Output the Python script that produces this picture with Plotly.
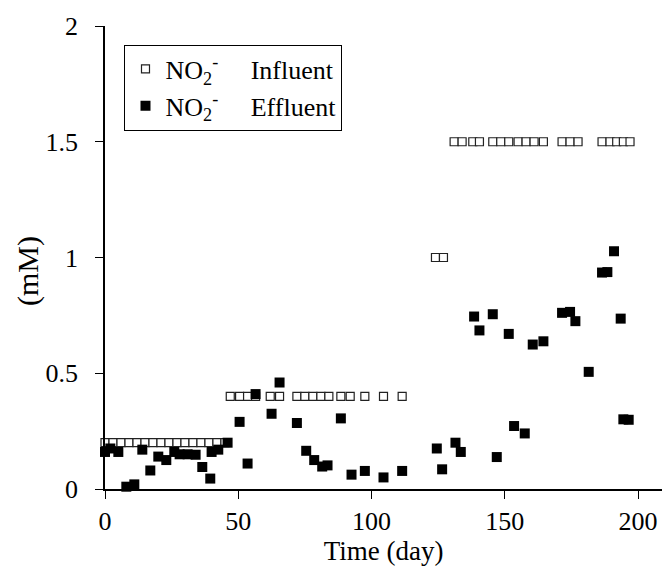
import plotly.graph_objects as go

# Influent NO2- (open squares)
influent_days = [0, 3, 6, 9, 12, 15, 18, 21, 24, 27, 30, 33, 36, 39, 42, 45,
                 47, 50.5, 53.5, 56.5, 62, 65.5, 72, 75, 78, 81, 84, 88.5, 92, 97.5, 104.5, 111.5,
                 124, 127,
                 131, 134, 138, 140.5, 145.5, 148.5, 151.5, 155, 158, 161, 164.5,
                 171.5, 174.5, 177.5, 186.5, 189.5, 192, 194.5, 197]
influent_mM = [0.2] * 16 + [0.4] * 16 + [1.0] * 2 + [1.5] * 19

# Effluent NO2- (filled squares)
effluent_days = [0, 2, 5, 8, 11, 14, 17, 20, 23, 26, 28, 31, 34, 36.5, 39.5, 40, 42.5,
                 46, 50.5, 53.5, 56.5, 62.5, 65.5, 72, 75.5, 78.5, 81.5, 83.5, 88.5,
                 92.5, 97.5, 104.5, 111.5, 124.5, 126.5, 131.5, 133.5, 138.5, 140.5,
                 145.5, 147, 151.5, 153.5, 157.5, 160.5, 164.5, 171.5, 174.5, 176.5,
                 181.5, 186.5, 188.5, 191, 193.5, 194.5, 196.5]
effluent_mM = [0.16, 0.175, 0.16, 0.01, 0.02, 0.17, 0.08, 0.14, 0.125, 0.16, 0.15, 0.15,
               0.148, 0.095, 0.045, 0.16, 0.17,
               0.2, 0.29, 0.11, 0.41, 0.325, 0.46, 0.285, 0.165, 0.125, 0.097, 0.102, 0.305,
               0.062, 0.078, 0.05, 0.078, 0.175, 0.085, 0.2, 0.16, 0.745, 0.685,
               0.755, 0.138, 0.67, 0.272, 0.24, 0.624, 0.638, 0.761, 0.765, 0.725,
               0.506, 0.935, 0.937, 1.027, 0.736, 0.301, 0.299]

x_ticks = [0, 50, 100, 150, 200]
y_ticks = [0, 0.5, 1, 1.5, 2]
y_tick_text = ["0", "0.5", "1", "1.5", "2"]

FONT = "Liberation Serif, Times New Roman, serif"
GAP = "\u00a0" * 5

fig = go.Figure()
fig.add_trace(go.Scatter(
    x=influent_days, y=influent_mM, mode="markers",
    name="NO<sub>2</sub><sup>-</sup>" + GAP + "Influent",
    marker=dict(symbol="square", size=8, color="white",
                line=dict(color="#222222", width=1.2)),
    cliponaxis=False,
))
fig.add_trace(go.Scatter(
    x=effluent_days, y=effluent_mM, mode="markers",
    name="NO<sub>2</sub><sup>-</sup>" + GAP + "Effluent",
    marker=dict(symbol="square", size=10, color="black",
                line=dict(color="black", width=0)),
    cliponaxis=False,
))

fig.update_layout(
    width=663, height=576,
    margin=dict(l=105, r=1, t=26, b=87),
    paper_bgcolor="white", plot_bgcolor="white",
    font=dict(family=FONT, size=26, color="black"),
    showlegend=True,
    legend=dict(
        x=0.035, y=0.96, xanchor="left", yanchor="top",
        bordercolor="black", borderwidth=1, bgcolor="white",
        font=dict(family=FONT, size=26, color="black"),
    ),
    xaxis=dict(
        range=[0, 209], tickvals=x_ticks, ticks="outside", ticklen=8,
        tickcolor="black", tickwidth=1, showline=True, linecolor="black",
        linewidth=1.5, showgrid=False, zeroline=False,
        ticklabelstandoff=0,
        tickfont=dict(family=FONT, size=26, color="black"),
        title=dict(text="Time (day)", standoff=0,
                   font=dict(family=FONT, size=27, color="black")),
    ),
    yaxis=dict(
        range=[0, 2], tickvals=y_ticks, ticktext=y_tick_text, ticks="outside",
        ticklen=8, tickcolor="black", tickwidth=1, showline=True,
        linecolor="black", linewidth=1.5, showgrid=False, zeroline=False,
        ticklabelstandoff=12,
        tickfont=dict(family=FONT, size=26, color="black"),
    ),
    annotations=[dict(
        text="(mM)", textangle=-90, xref="paper", yref="paper",
        x=-0.138, y=0.471, xanchor="center", yanchor="middle",
        showarrow=False, font=dict(family=FONT, size=30, color="black"),
    )],
)

fig.write_html("out.html", config={"displayModeBar": False},
               post_script="document.body.style.margin='0px';")
